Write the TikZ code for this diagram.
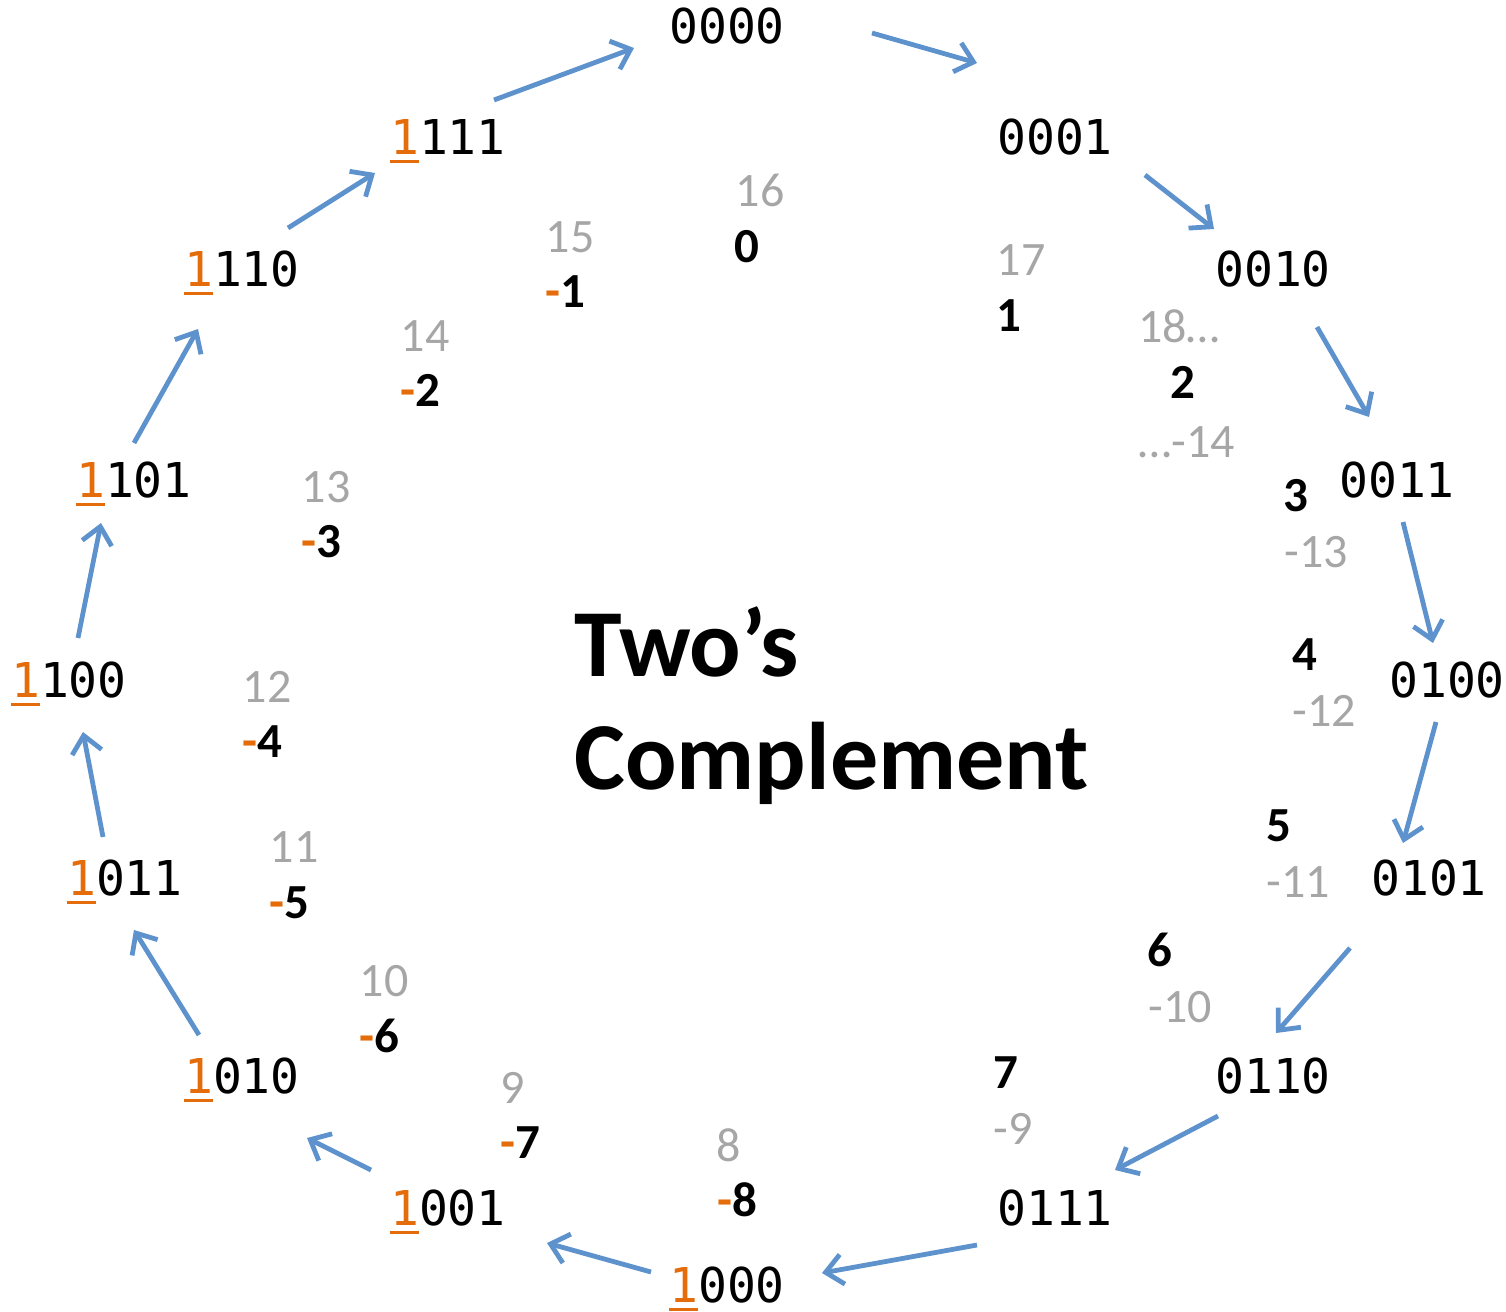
\documentclass[tikz,border=0pt]{standalone}
\usepackage{fontspec}
\setmainfont{Carlito}
\newfontfamily\binfont{DejaVu Sans Mono}
\usepackage{xcolor}
\usetikzlibrary{arrows.meta,calc}
\definecolor{signorange}{RGB}{228,108,10}
\definecolor{wrapgray}{RGB}{166,166,166}
\definecolor{arrowblue}{RGB}{94,146,204}
\newcommand{\sbit}{\textcolor{signorange}{\rlap{\rule[-4.5pt]{0.6em}{1.3pt}}1}}
\newcommand{\mns}{\textcolor{signorange}{-}}
\tikzset{%
	binary/.style = {anchor=base, inner sep=0pt, font=\binfont\fontsize{24}{28}\selectfont},
	unsgn/.style  = {anchor=base, inner sep=0pt, text=wrapgray, font=\fontsize{24}{28}\selectfont},
	sgn/.style    = {anchor=base, inner sep=0pt, font=\bfseries\fontsize{24.5}{28}\selectfont},
	title/.style  = {anchor=north west, inner sep=0pt, align=left, font=\bfseries\fontsize{48}{56.5}\selectfont},
	arrow/.style  = {line width=2.4pt, draw=arrowblue, -{Straight Barb[length=8.5pt,width=15pt]}},
}
\begin{document}
\begin{tikzpicture}[x=0.5pt,y=-0.5pt]
	\useasboundingbox (0,0) rectangle (1506,1312);
	
	% bit patterns round the wheel
	\node[binary] (b0000) at (727,43)   {0000};
	\node[binary] (b0001) at (1055,154) {0001};
	\node[binary] (b0010) at (1273,286) {0010};
	\node[binary] (b0011) at (1397,497) {0011};
	\node[binary] (b0100) at (1447,697) {0100};
	\node[binary] (b0101) at (1429,895) {0101};
	\node[binary] (b0110) at (1273,1093) {0110};
	\node[binary] (b0111) at (1055,1225) {0111};
	\node[binary] (b1000) at (727,1302) {\sbit000};
	\node[binary] (b1001) at (448,1225) {\sbit001};
	\node[binary] (b1010) at (242,1093) {\sbit010};
	\node[binary] (b1011) at (125,895)  {\sbit011};
	\node[binary] (b1100) at (69,697)   {\sbit100};
	\node[binary] (b1101) at (134,497)  {\sbit101};
	\node[binary] (b1110) at (242,286)  {\sbit110};
	\node[binary] (b1111) at (448,154)  {\sbit111};
	
	% unsigned values (gray) and signed values (bold)
	\node[unsgn] (u16) at (760,206) {16};
	\node[sgn]   (s0)  at (747,262) {0};
	\node[unsgn] (u17) at (1021,275) {17};
	\node[sgn]   (s1)  at (1009,331) {1};
	\node[unsgn] (u18) at (1179,342) {18…};
	\node[sgn]   (s2)  at (1183,398) {2};
	\node[unsgn] (u14n) at (1187,457) {…-14};
	\node[sgn]   (s3)  at (1296,511) {3};
	\node[unsgn] (u13n) at (1316,567) {-13};
	\node[sgn]   (s4)  at (1305,670) {4};
	\node[unsgn] (u12n) at (1324,726) {-12};
	\node[sgn]   (s5)  at (1279,841) {5};
	\node[unsgn] (u11n) at (1298,897) {-11};
	\node[sgn]   (s6)  at (1160,966) {6};
	\node[unsgn] (u10n) at (1180,1022) {-10};
	\node[sgn]   (s7)  at (1006,1088) {7};
	\node[unsgn] (u9n) at (1013,1144) {-9};
	\node[unsgn] (u8)  at (729,1161) {8};
	\node[sgn]   (s8n) at (737,1216) {\mns8};
	\node[unsgn] (u9)  at (513,1103) {9};
	\node[sgn]   (s7n) at (520,1158) {\mns7};
	\node[unsgn] (u10) at (384,996) {10};
	\node[sgn]   (s6n) at (379,1052) {\mns6};
	\node[unsgn] (u11) at (294,862) {11};
	\node[sgn]   (s5n) at (289,918) {\mns5};
	\node[unsgn] (u12) at (267,702) {12};
	\node[sgn]   (s4n) at (262,757) {\mns4};
	\node[unsgn] (u13) at (326,502) {13};
	\node[sgn]   (s3n) at (321,557) {\mns3};
	\node[unsgn] (u14) at (425,351) {14};
	\node[sgn]   (s2n) at (420,406) {\mns2};
	\node[unsgn] (u15) at (570,252) {15};
	\node[sgn]   (s1n) at (565,307) {\mns1};
	
	\node[title] (name) at (574,606) {Two’s\\Complement};
	
	% arrows: from / to / start shift / end shift
	\foreach \from/\to/\sx/\sy/\ex/\ey in {%
		1111/0000/46/-54/-93/5, 0000/0001/145/-10/-78/-91,
		0001/0010/90/21/-59/-57, 0010/0011/44/41/-28/-80,
		0011/0100/6/25/-14/-54, 0100/0101/-11/25/-26/-52,
		0101/0110/-79/53/3/-60, 0110/0111/-55/23/60/-55,
		0111/1000/-78/20/95/-29, 1000/1001/-76/-30/99/18,
		1001/1010/-77/-55/65/45, 1010/1011/-43/-58/9/35,
		1011/1100/-22/-58/14/35, 1100/1101/9/-59/-33/26,
		1101/1110/0/-54/-44/43, 1110/1111/46/-58/-73/19}
		\draw[arrow] ([shift={(\sx,\sy)}]b\from.base) -- ([shift={(\ex,\ey)}]b\to.base);
	
\end{tikzpicture}
\end{document}
